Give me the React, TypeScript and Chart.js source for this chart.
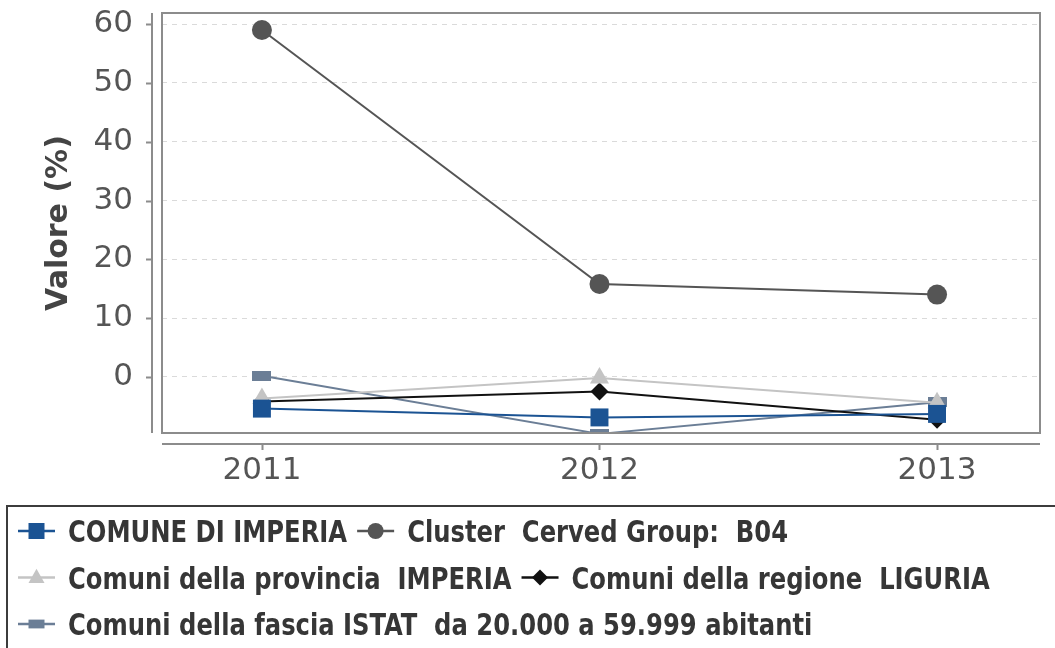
import React, { useEffect, useRef } from "react";
import { Chart, registerables } from "chart.js";

Chart.register(...registerables);

const years = [2011, 2012, 2013];
const comuneImperia = [-5.4, -6.9, -6.3];
const clusterB04 = [59.0, 15.8, 14.0];
const provinciaImperia = [-3.7, -0.2, -4.4];
const regioneLiguria = [-4.2, -2.5, -7.3];
const fasciaIstat = [0.2, -9.7, -4.3];
const yTicks = [0, 10, 20, 30, 40, 50, 60];

const seriesLabels = [
  "COMUNE DI IMPERIA",
  "Cluster  Cerved Group:  B04",
  "Comuni della provincia  IMPERIA",
  "Comuni della regione  LIGURIA",
  "Comuni della fascia ISTAT  da 20.000 a 59.999 abitanti",
];
const seriesColors = ["#1b5393", "#555555", "#c4c4c4", "#111111", "#6b7e96"];
const seriesMarkers = ["rect", "circle", "triangle", "rectRot", "bar"];
const seriesValues = [comuneImperia, clusterB04, provinciaImperia, regioneLiguria, fasciaIstat];

function drawMarker(ctx: CanvasRenderingContext2D, kind: string, x: number, y: number, color: string, s: number) {
  ctx.save();
  ctx.fillStyle = color;
  ctx.beginPath();
  if (kind === "rect") {
    ctx.rect(x - s, y - s, 2 * s, 2 * s);
  } else if (kind === "circle") {
    ctx.arc(x, y, s, 0, Math.PI * 2);
  } else if (kind === "triangle") {
    ctx.moveTo(x, y - s * 1.1);
    ctx.lineTo(x + s, y + s * 0.7);
    ctx.lineTo(x - s, y + s * 0.7);
    ctx.closePath();
  } else if (kind === "rectRot") {
    ctx.moveTo(x, y - s);
    ctx.lineTo(x + s, y);
    ctx.lineTo(x, y + s);
    ctx.lineTo(x - s, y);
    ctx.closePath();
  } else {
    ctx.rect(x - s, y - s * 0.55, 2 * s, s * 1.1);
  }
  ctx.fill();
  ctx.restore();
}

const framePlugin = {
  id: "frame",
  afterDraw(chart: any) {
    const { ctx, chartArea } = chart;
    const { left, right, top, bottom } = chartArea;
    const ys = chart.scales.y;
    const xs = chart.scales.x;
    ctx.save();
    ctx.strokeStyle = "#8c8c8c";
    ctx.lineWidth = 2;
    ctx.strokeRect(left, top, right - left, bottom - top);
    // y axis line (offset)
    ctx.beginPath();
    ctx.moveTo(left - 10, top);
    ctx.lineTo(left - 10, bottom);
    yTicks.forEach((v) => {
      const py = Math.round(ys.getPixelForValue(v)) + 0.5;
      ctx.moveTo(left - 16, py);
      ctx.lineTo(left - 10, py);
    });
    // x axis line (offset)
    ctx.moveTo(left, bottom + 11);
    ctx.lineTo(right, bottom + 11);
    years.forEach((v) => {
      const px = Math.round(xs.getPixelForValue(v)) + 0.5;
      ctx.moveTo(px, bottom + 11);
      ctx.lineTo(px, bottom + 17);
    });
    ctx.stroke();

    // legend
    const lx = 7;
    const ly = 506;
    ctx.strokeStyle = "#3c3c3c";
    ctx.lineWidth = 2;
    ctx.strokeRect(lx, ly, chart.width + 20, 200);
    ctx.font = 'bold 30px "DejaVu Sans Condensed", "DejaVu Sans", sans-serif';
    ctx.textBaseline = "alphabetic";
    ctx.textAlign = "left";
    const sx = (275 / ctx.measureText(seriesLabels[0]).width) * 1.015;
    const maxX = chart.width - 5;
    let x0 = 13;
    let row = 0;
    seriesLabels.forEach((label, i) => {
      const tw = ctx.measureText(label).width * sx;
      const w = 55 + tw;
      if (x0 + w > maxX && x0 > 13) {
        row += 1;
        x0 = 13;
      }
      const base = 542 + row * 46.5;
      const cy = base - 11;
      ctx.strokeStyle = seriesColors[i];
      ctx.lineWidth = 2.5;
      ctx.beginPath();
      ctx.moveTo(x0 + 5, cy);
      ctx.lineTo(x0 + 42, cy);
      ctx.stroke();
      drawMarker(ctx, seriesMarkers[i], x0 + 23.5, cy, seriesColors[i], 8);
      ctx.save();
      ctx.translate(x0 + 55, base);
      ctx.scale(sx, 1);
      ctx.fillStyle = "#363636";
      ctx.fillText(label, 0, 0);
      ctx.restore();
      x0 = x0 + w + 5;
    });
    ctx.restore();
  },
};

export default function App() {
  const canvasRef = useRef<HTMLCanvasElement | null>(null);

  useEffect(() => {
    if (!canvasRef.current) return;
    const bar = document.createElement("canvas");
    bar.width = 19;
    bar.height = 10;
    const bctx = bar.getContext("2d")!;
    bctx.fillStyle = seriesColors[4];
    bctx.fillRect(0, 0, 19, 10);

    const pointStyles: any[] = ["rect", "circle", "triangle", "rectRot", bar];
    const pointRadii = [12.7, 10, 11, 9, 10];

    const chart = new Chart(canvasRef.current, {
      type: "line",
      data: {
        datasets: seriesLabels.map((label, i) => ({
          label,
          data: years.map((yr, j) => ({ x: yr, y: seriesValues[i][j] })),
          borderColor: seriesColors[i],
          backgroundColor: seriesColors[i],
          pointBackgroundColor: seriesColors[i],
          pointBorderColor: seriesColors[i],
          pointBorderWidth: 0,
          pointStyle: pointStyles[i],
          pointRadius: pointRadii[i],
          borderWidth: 2,
          tension: 0,
          fill: false,
        })),
      },
      options: {
        animation: false,
        responsive: true,
        maintainAspectRatio: false,
        layout: { padding: { top: 13, right: 15, left: 0, bottom: 0 } },
        plugins: {
          legend: { display: false },
          tooltip: { enabled: false },
        },
        scales: {
          x: {
            type: "linear",
            min: 2010.704,
            max: 2013.305,
            afterBuildTicks: (s: any) => {
              s.ticks = years.map((v) => ({ value: v }));
            },
            afterFit: (s: any) => {
              s.height = 215;
              s.paddingLeft = 0;
              s.paddingRight = 0;
            },
            grid: { display: false, drawTicks: false },
            border: { display: false },
            ticks: {
              callback: (v: any) => String(v),
              font: { family: '"DejaVu Sans", sans-serif', size: 31 },
              color: "#555555",
              padding: 19,
              maxRotation: 0,
              autoSkip: false,
            },
          },
          y: {
            type: "linear",
            min: -9.55,
            max: 61.9,
            afterBuildTicks: (s: any) => {
              s.ticks = yTicks.map((v) => ({ value: v }));
            },
            afterFit: (s: any) => {
              s.width = 162;
              s.paddingTop = 0;
              s.paddingBottom = 0;
            },
            grid: { color: "#dadada", lineWidth: 1, drawTicks: false },
            border: { display: false, dash: [5, 5] },
            ticks: {
              font: { family: '"DejaVu Sans", sans-serif', size: 31 },
              color: "#555555",
              padding: 29,
            },
            title: {
              display: true,
              text: "Valore (%)",
              font: { family: '"DejaVu Sans", sans-serif', size: 30, weight: "bold" },
              color: "#444444",
              padding: { top: 41, bottom: 0 },
            },
          },
        },
      },
      plugins: [framePlugin],
    });
    return () => chart.destroy();
  }, []);

  return (
    <div style={{ position: "absolute", left: 0, top: 0, width: 1055, height: 648, background: "#ffffff" }}>
      <canvas ref={canvasRef} />
    </div>
  );
}
